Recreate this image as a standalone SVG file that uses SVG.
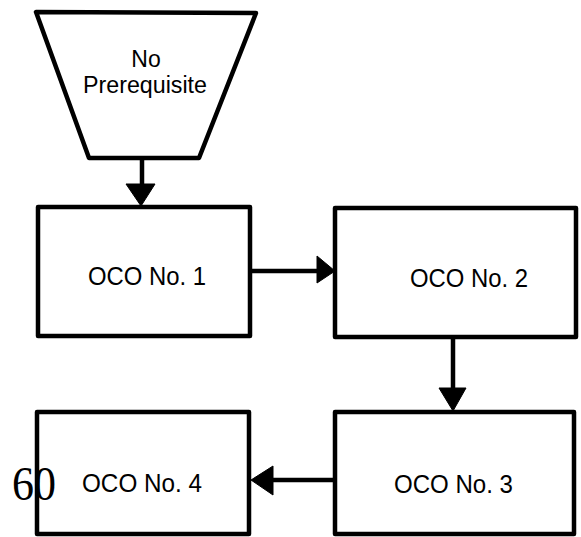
<svg xmlns="http://www.w3.org/2000/svg" width="581" height="537" viewBox="0 0 581 537">
<style>
.shape{fill:#fff;stroke:#000;stroke-width:4.5;stroke-linejoin:round}
.lbl{font-family:"Liberation Sans",Arial,sans-serif;font-size:26px;fill:#000}
.pre{font-size:23px}
.conn{stroke:#000;stroke-width:4.5;fill:none}
.head{fill:#000;stroke:#000;stroke-width:1;stroke-linejoin:round}
</style>
<rect width="581" height="537" fill="#fff"/>
<g id="start">
<polygon class="shape" points="36,12 256,13 199,158 89,158"/>
<text class="lbl pre" x="146" y="67" text-anchor="middle">No</text>
<text class="lbl pre" x="145" y="93" text-anchor="middle" textLength="124" lengthAdjust="spacingAndGlyphs">Prerequisite</text>
</g>
<g id="oco1">
<rect class="shape" x="38" y="207" width="212" height="129"/>
<text class="lbl" x="88" y="285" textLength="118" lengthAdjust="spacingAndGlyphs">OCO No. 1</text>
</g>
<g id="oco2">
<rect class="shape" x="335" y="208" width="241" height="129"/>
<text class="lbl" x="410" y="287" textLength="118" lengthAdjust="spacingAndGlyphs">OCO No. 2</text>
</g>
<g id="oco3">
<rect class="shape" x="335" y="412" width="239" height="122"/>
<text class="lbl" x="394" y="493" textLength="119" lengthAdjust="spacingAndGlyphs">OCO No. 3</text>
</g>
<g id="oco4">
<rect class="shape" x="37" y="412" width="212" height="122"/>
<text class="lbl" x="82" y="492" textLength="120" lengthAdjust="spacingAndGlyphs">OCO No. 4</text>
</g>
<g id="connectors">
<line class="conn" x1="142" y1="158" x2="142" y2="184"/>
<polygon class="head" points="126,184 155,184 141,206"/>
<line class="conn" x1="252" y1="271" x2="318" y2="271"/>
<polygon class="head" points="317,256 335,271 317,283"/>
<line class="conn" x1="453" y1="337" x2="453" y2="388"/>
<polygon class="head" points="439,388 466,388 453,411"/>
<line class="conn" x1="333" y1="480" x2="272" y2="480"/>
<polygon class="head" points="273,466 273,495 251,480"/>
</g>
<text x="12" y="500" style="font-family:'Liberation Serif','Times New Roman',serif;font-size:48px;fill:#000" textLength="44" lengthAdjust="spacingAndGlyphs">60</text>
</svg>
